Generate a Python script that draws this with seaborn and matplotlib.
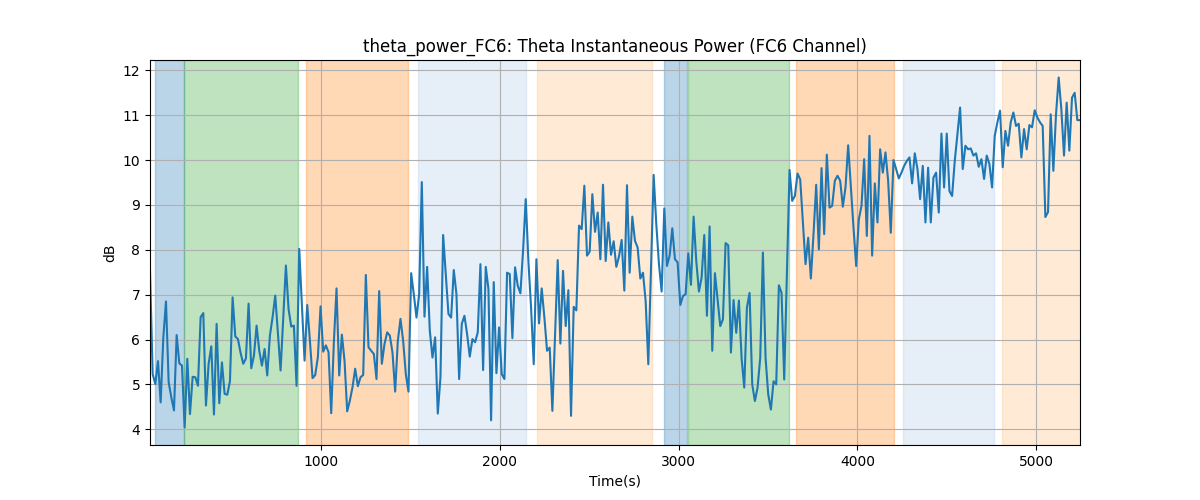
import numpy as np
import pandas as pd
import seaborn as sns
import matplotlib.pyplot as plt

# theta power (dB), one value every ~15 s
theta_db = [
    7.54, 5.23, 5.01, 5.52, 4.60, 6.05, 6.85, 5.05, 4.71, 4.42, 6.10, 5.47, 5.42, 4.04, 5.57,
    4.34, 5.17, 5.16, 4.97, 6.50, 6.59, 4.53, 5.46, 5.85, 4.33, 6.35, 4.58, 5.49, 4.79, 4.77,
    5.07, 6.94, 6.07, 6.01, 5.70, 5.46, 5.58, 6.80, 5.36, 5.64, 6.31, 5.75, 5.42, 5.79, 5.20,
    6.09, 6.50, 6.98, 6.13, 5.31, 6.50, 7.65, 6.68, 6.29, 6.31, 4.97, 8.02, 6.80, 5.53, 6.77,
    5.98, 5.14, 5.21, 5.61, 6.74, 5.73, 5.87, 5.72, 4.36, 5.94, 7.14, 5.20, 6.11, 5.53, 4.40,
    4.64, 4.94, 5.35, 4.96, 5.16, 5.21, 7.44, 5.83, 5.75, 5.68, 5.12, 7.08, 5.46, 5.90,
    6.16, 6.09, 5.71, 4.84, 5.97, 6.46, 5.97, 5.23, 4.84, 7.48, 7.01, 6.49, 7.01, 9.51, 6.51,
    7.62, 6.20, 5.60, 6.05, 4.35, 5.16, 8.33, 7.46, 6.57, 6.49, 7.55, 7.01, 5.12, 6.35, 6.53,
    6.12, 5.62, 6.01, 5.94, 6.16, 7.68, 5.32, 7.62, 7.13, 4.20, 7.28, 5.25, 6.27, 5.23,
    5.12, 7.49, 7.46, 6.03, 7.61, 7.20, 7.03, 7.98, 9.13, 7.75, 6.71, 5.45, 7.79, 6.36, 7.14,
    6.49, 5.75, 5.82, 4.41, 6.08, 7.77, 5.91, 7.53, 6.30, 7.10, 4.30, 6.73, 6.65, 8.54, 8.46,
    9.43, 7.87, 7.96, 9.24, 8.40, 8.83, 7.79, 9.45, 7.75, 8.61, 7.89, 8.19, 7.62, 7.85,
    8.22, 7.09, 9.44, 7.49, 8.74, 8.20, 8.05, 7.36, 7.49, 6.86, 5.45, 7.53, 9.67, 8.57, 7.68,
    7.07, 8.92, 7.64, 7.87, 8.48, 7.79, 7.72, 6.77, 6.97, 7.01, 7.92, 7.22, 8.74, 7.75, 7.07,
    7.38, 8.33, 6.53, 8.52, 5.75, 7.48, 6.90, 6.30, 6.45, 8.15, 8.10, 5.71, 6.88, 6.15,
    6.87, 5.59, 4.93, 6.71, 7.04, 5.00, 4.63, 4.93, 5.59, 7.94, 5.59, 4.78, 4.44, 5.07, 5.00,
    7.21, 7.04, 5.11, 7.40, 9.78, 9.09, 9.20, 9.70, 9.57, 8.64, 7.68, 8.27, 7.36, 8.35, 9.45,
    8.01, 9.82, 8.35, 10.12, 8.94, 8.98, 9.54, 9.65, 9.54, 8.96, 9.39, 10.33, 9.40, 8.50,
    7.64, 8.68, 8.98, 10.02, 8.31, 10.54, 7.87, 9.48, 8.61, 10.24, 9.72, 10.17, 9.54, 8.38, 10.00,
    9.80, 9.59, 9.72, 9.87, 9.98, 10.06, 9.48, 10.15, 9.80, 9.13, 9.87, 8.61, 9.83, 8.61, 9.61,
    9.72, 8.83, 10.59, 9.39, 10.59, 9.31, 9.20, 9.98, 10.58, 11.17, 9.80, 10.32, 10.24, 10.26,
    10.10, 10.15, 9.85, 10.02, 9.58, 10.10, 9.91, 9.39, 10.54, 10.84, 11.10, 9.84, 10.65, 10.32, 10.84,
    11.06, 10.76, 10.81, 10.06, 10.69, 10.24, 10.78, 10.73, 11.11, 10.95, 10.84, 10.76, 8.73, 8.84, 11.02,
    9.76, 11.02, 11.84, 11.13, 10.10, 11.28, 10.21, 11.39, 11.50, 10.89, 10.89,
]
t_first, t_last = 42, 5246

# shaded task segments (seconds) and their kind
seg_start = [70, 232, 914, 1542, 2206, 2916, 3050, 3659, 4253, 4810]
seg_end = [230, 868, 1488, 2147, 2853, 3047, 3615, 4204, 4765, 5300]
seg_kind = ["a", "b", "c", "d", "e", "a", "b", "c", "d", "e"]

kind_color = {"a": "tab:blue", "b": "tab:green", "c": "tab:orange",
              "d": "#aec7e8", "e": "#ffbb78"}

df = pd.DataFrame({
    "Time(s)": np.linspace(t_first, t_last, len(theta_db)),
    "dB": theta_db,
})

fig, ax = plt.subplots(figsize=(12, 5), dpi=100)

for s, e, k in zip(seg_start, seg_end, seg_kind):
    ax.axvspan(s, e, color=kind_color[k], alpha=0.3)

sns.lineplot(data=df, x="Time(s)", y="dB", ax=ax, color="tab:blue", linewidth=1.5, legend=False)

ax.set_xlim(t_first, t_last)
ax.grid(True)
ax.set_title("theta_power_FC6: Theta Instantaneous Power (FC6 Channel)")
ax.set_xlabel("Time(s)")
ax.set_ylabel("dB")

plt.savefig("out.png", dpi=100)
